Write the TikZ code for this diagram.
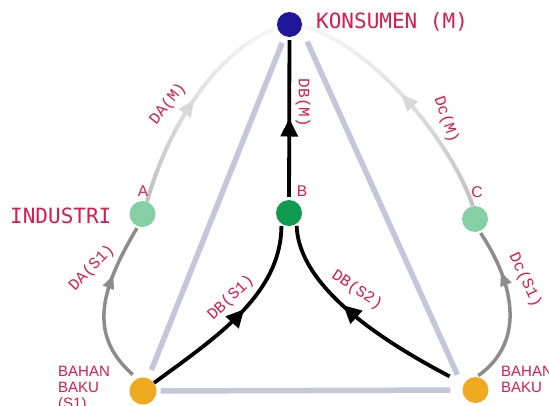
\documentclass[tikz,border=0pt]{standalone}
\usepackage{fontspec}
\setmainfont{Liberation Sans}
\newfontfamily\titlemono{DejaVu Sans Mono}
\newfontfamily\edgemono{Liberation Mono}
\usetikzlibrary{arrows.meta,decorations.markings,fadings}

\definecolor{txtred}{HTML}{D81B4F}
\definecolor{colM}{HTML}{1F169A}
\definecolor{colB}{HTML}{0E9A4F}
\definecolor{colAC}{HTML}{85CFA5}
\definecolor{colS}{HTML}{F0AA1F}
\definecolor{triline}{HTML}{C6C6DA}
\definecolor{sidegray}{HTML}{8C8C8C}
\definecolor{arcgray}{HTML}{B4B4B4}
\definecolor{arctip}{HTML}{D8D8D8}

\tikzfading[name=arcfade, top color=transparent!88, bottom color=transparent!15]

\begin{document}
\begin{tikzpicture}[x=1pt,y=-1pt,
  dot/.style={circle, inner sep=0pt, minimum size=#1},
  dot/.default=26pt,
  edgelbl/.style={font=\edgemono\fontsize{16}{16}\selectfont, text=txtred, inner sep=0pt},
  titlelbl/.style={font=\titlemono\fontsize{21}{21}\selectfont, text=txtred, inner sep=0pt, anchor=base west},
  letterlbl/.style={font=\fontsize{15.5}{15.5}\selectfont, text=txtred, inner sep=0pt, anchor=base},
  sourcelbl/.style={font=\fontsize{15}{16}\selectfont, text=txtred, inner sep=0pt, anchor=north west, align=left},
  tri/.style={draw=triline, line width=5.5pt},
  flow/.style={draw=black, line width=3.8pt},
  side/.style={draw=sidegray, line width=3.5pt},
  lightarc/.style={draw=arcgray, line width=4pt, path fading=arcfade},
  midtip/.style n args={2}{postaction={decorate},
    decoration={markings, mark=at position #1 with {\arrow{#2}}}},
  bigtip/.style={midtip={#1}{Triangle[length=18pt,width=17pt]}},
  sidetip/.style={midtip={#1}{Triangle[length=14pt,width=11pt]}},
]
\useasboundingbox (0,0) rectangle (549,405);
\clip (0,0) rectangle (549,405);

% vertices
\node[dot=25pt, fill=colM] (nM) at (289.5,24.5) {};
\node[dot, fill=colB] (nB) at (289,213) {};
\node[dot, fill=colAC] (nA) at (142.5,214) {};
\node[dot, fill=colAC] (nC) at (475,219) {};
\node[dot=27pt, fill=colS] (nS1) at (143,391) {};
\node[dot, fill=colS] (nS2) at (475.5,390) {};

% outer triangle
\draw[tri, shorten <=7pt, shorten >=9pt] (nM) -- (nS1);
\draw[tri, shorten <=14pt, shorten >=13pt] (nM.-20) -- (nS2.165);
\draw[tri, shorten <=4pt, shorten >=12pt] (nS1) -- (nS2);

% faint arcs towards the consumer
\draw[lightarc, shorten >=3pt] (nA.70) .. controls (170,120) and (220,50) .. (nM.195);
\path[midtip={0.5}{Triangle[length=16pt,width=15pt,color=arctip]}]
  (nA.70) .. controls (170,120) and (220,50) .. (nM.195);
\draw[lightarc, shorten >=3pt] (nC.100) .. controls (455,150) and (380,50) .. (nM.-5);
\path[midtip={0.52}{Triangle[length=16pt,width=15pt,color=arctip]}]
  (nC.100) .. controls (455,150) and (380,50) .. (nM.-5);

% side supply routes
\draw[side, sidetip=0.68, shorten <=6pt, shorten >=2pt]
  (nS1.115) .. controls (88,335) and (100,290) .. (nA.-110);
\draw[side, sidetip=0.72, shorten <=2pt, shorten >=2pt]
  (nS2.85) .. controls (528,340) and (512,280) .. (nC.-70);

% main flows through B
\draw[flow, bigtip=0.5, shorten <=3pt, shorten >=3pt] (nB) -- (nM);
\draw[flow, bigtip=0.55, shorten >=2pt]
  (nS1) .. controls (215,338) and (281,295) .. (nB.-125);
\draw[flow, bigtip=0.6, shorten <=16pt, shorten >=2pt]
  (nS2) .. controls (390,345) and (299,290) .. (nB.-55);

% titles
\node[titlelbl] (tM) at (316,28) {KONSUMEN (M)};
\node[titlelbl] (tInd) at (10,223) {INDUSTRI};
\node[letterlbl] (tA) at (143,196) {A};
\node[letterlbl] (tB) at (302,196) {B};
\node[letterlbl] (tC) at (477,197) {C};
\node[sourcelbl] (tS1) at (58,366) {BAHAN\\BAKU\\(S1)};
\node[sourcelbl] (tS2) at (501,366) {BAHAN\\BAKU};

% edge labels
\node[edgelbl, rotate=51] (lDAM) at (168,104) {DA(M)};
\node[edgelbl, rotate=-71] (lDCM) at (446,120) {Dc(M)};
\node[edgelbl, rotate=-90] (lDBM) at (303,103) {DB(M)};
\node[edgelbl, rotate=46] (lDAS) at (92,268) {DA(S1)};
\node[edgelbl, rotate=44] (lDBS1) at (231,298) {DB(S1)};
\node[edgelbl, rotate=-34] (lDBS2) at (357,290) {DB(S2)};
\node[edgelbl, rotate=-65] (lDCS) at (525,280) {Dc(S1)};
\end{tikzpicture}
\end{document}
